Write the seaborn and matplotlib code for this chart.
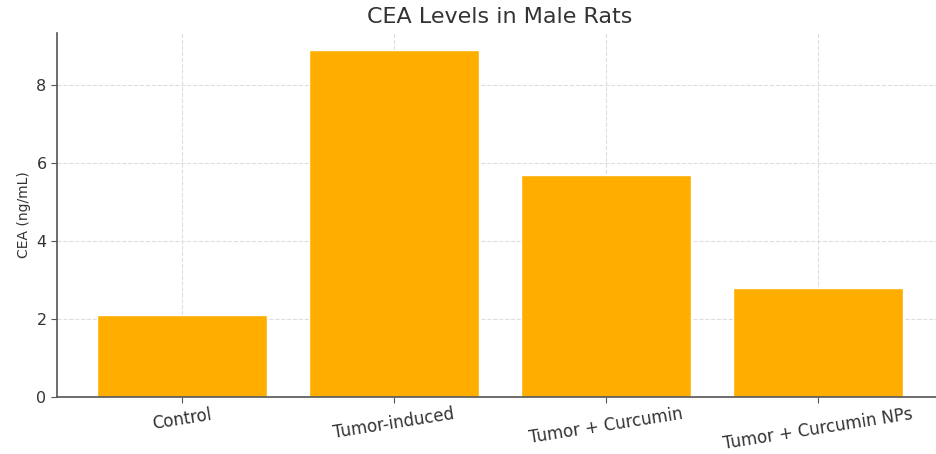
import matplotlib
matplotlib.use('Agg')
import matplotlib.pyplot as plt
import seaborn as sns
import pandas as pd

# Data
groups = ['Control', 'Tumor-induced', 'Tumor + Curcumin', 'Tumor + Curcumin NPs']
cea_values = [2.1, 8.9, 5.7, 2.8]

df = pd.DataFrame({'group': groups, 'cea': cea_values})

sns.set_style('white')
plt.rcParams['font.family'] = ['DejaVu Sans']

fig = plt.figure(figsize=(9.36, 4.54), dpi=100)
ax = fig.add_axes([57 / 936, 57 / 454, 886 / 936, 364 / 454])

sns.barplot(data=df, x='group', y='cea', color='#FFAE00', saturation=1,
            width=0.8, ax=ax, zorder=2)
ax.set_xlim(-0.59, 3.59)
ax.set_ylim(0, 9.33)
ax.set_yticks([0, 2, 4, 6, 8])

ax.grid(True, linestyle='--', color='#dddddd', linewidth=0.8, zorder=0)
ax.set_axisbelow(True)

for side in ['top', 'right']:
    ax.spines[side].set_visible(False)
for side in ['left', 'bottom']:
    ax.spines[side].set_color('#555555')
    ax.spines[side].set_linewidth(1.2)

ax.tick_params(axis='both', colors='#333333', labelsize=11.5, length=4,
               direction='out', left=True, bottom=True, color='#555555')
ax.tick_params(axis='x', pad=2)
plt.setp(ax.get_xticklabels(), rotation=9, fontsize=12)

ax.set_xlabel('')
ax.set_ylabel('CEA (ng/mL)', fontsize=10, color='#333333')
ax.set_title('CEA Levels in Male Rats', fontsize=16, color='#333333', pad=7)

fig.savefig('out.png', dpi=100)
